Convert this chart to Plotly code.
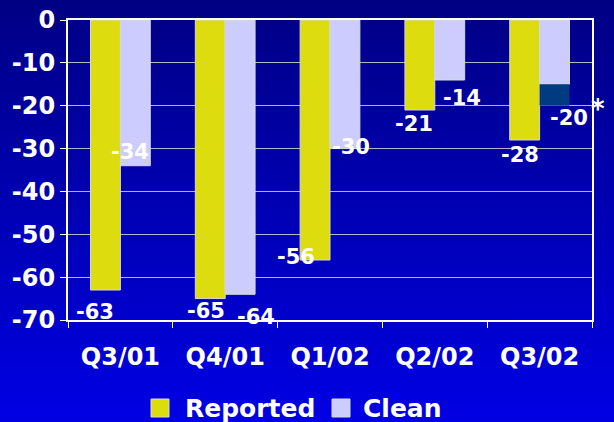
import base64
import plotly.graph_objects as go

# ---- data ----
quarters = ["Q3/01", "Q4/01", "Q1/02", "Q2/02", "Q3/02"]
reported = [-63, -65, -56, -21, -28]
clean_base = [-34, -64, -30, -14, -15]
clean_oneoff = [0, 0, 0, 0, -5]
y_ticks = [0, -10, -20, -30, -40, -50, -60, -70]
series_names = ["Reported", "Clean"]

clean_total = [a + b for a, b in zip(clean_base, clean_oneoff)]

# ---- label nudges (px) ----
rep_dx = [-10, -4, -19, -6, -5]
rep_dy = [22, 12, -3, 14, 15]
cln_dx = [-5, 16, 6, 12, 14]
cln_dy = [-14, 23, -2, 18, 12]

YELLOW = "#dcdc0f"
LAVENDER = "#ccccff"
NAVY = "#003a80"
EDGE = "#d8d8d8"
FONT = "DejaVu Sans"

W, H = 614, 422
L, R, T, B = 68, 22, 20, 102
pw, ph = W - L - R, H - T - B


def px_x(p):
    return (p - L) / pw


def px_y(p):
    return (T + ph - p) / ph


fig = go.Figure()
fig.add_trace(go.Bar(name="Reported", x=quarters, y=reported, offsetgroup="r",
                     marker=dict(color=YELLOW, line=dict(color=EDGE, width=1))))
fig.add_trace(go.Bar(name="Clean", x=quarters, y=clean_base, offsetgroup="c",
                     marker=dict(color=LAVENDER, line=dict(color=EDGE, width=1))))
fig.add_trace(go.Bar(name="One-off", x=quarters, y=clean_oneoff, offsetgroup="c",
                     marker=dict(color=NAVY, line=dict(color=EDGE, width=0))))

annotations = []
for i, q in enumerate(quarters):
    annotations.append(dict(x=q, y=reported[i], xref="x", yref="y", text=str(reported[i]),
                            showarrow=False, xshift=-15 + rep_dx[i], yshift=-rep_dy[i],
                            font=dict(family=FONT, size=21, color="white", weight="bold")))
    annotations.append(dict(x=q, y=clean_total[i], xref="x", yref="y", text=str(clean_total[i]),
                            showarrow=False, xshift=15 + cln_dx[i], yshift=-cln_dy[i],
                            font=dict(family=FONT, size=21, color="white", weight="bold")))
annotations.append(dict(x=px_x(607), y=-20.8, xref="paper", yref="y", text="*", showarrow=False,
                        font=dict(family=FONT, size=26, color="white", weight="bold")))

# ---- legend (drawn manually for large square keys) ----
shapes = []
legend_keys = [(YELLOW, 151, 183), (LAVENDER, 332, 361)]
for name, (col, sq_x, tx_x) in zip(series_names, legend_keys):
    shapes.append(dict(type="rect", xref="paper", yref="paper",
                       x0=px_x(sq_x), x1=px_x(sq_x + 18), y0=px_y(399), y1=px_y(417),
                       fillcolor=col, line=dict(color=EDGE, width=1)))
    annotations.append(dict(x=px_x(tx_x), y=px_y(408), xref="paper", yref="paper",
                            xanchor="left", yanchor="middle", text=name, showarrow=False,
                            font=dict(family=FONT, size=25, color="white", weight="bold")))

svg = ('<svg xmlns="http://www.w3.org/2000/svg" width="614" height="422">'
       '<defs><linearGradient id="g" x1="0" y1="0" x2="0" y2="1">'
       '<stop offset="0" stop-color="#000084"/><stop offset="1" stop-color="#0000e4"/>'
       '</linearGradient></defs><rect width="614" height="422" fill="url(#g)"/></svg>')
src = "data:image/svg+xml;base64," + base64.b64encode(svg.encode()).decode()

fig.update_layout(
    width=W, height=H,
    margin=dict(l=L, r=R, t=T, b=B, autoexpand=False),
    barmode="relative",
    bargap=0.43, bargroupgap=0,
    paper_bgcolor="#0000b0",
    plot_bgcolor="rgba(0,0,0,0)",
    images=[dict(source=src, xref="paper", yref="paper", x=-L / pw, y=1 + T / ph,
                 sizex=W / pw, sizey=H / ph, sizing="stretch", layer="below",
                 xanchor="left", yanchor="top")],
    annotations=annotations,
    shapes=shapes,
    showlegend=False,
    font=dict(family=FONT, color="white"),
)
fig.update_xaxes(showline=True, linecolor="white", linewidth=2, mirror=True,
                 ticks="outside", tickson="boundaries", ticklen=6, tickcolor="white",
                 ticklabelstandoff=14,
                 tickfont=dict(family=FONT, size=24, color="white", weight="bold"),
                 showgrid=False, automargin=False)
fig.update_yaxes(range=[-70, 0], tickvals=y_ticks, ticktext=[str(v) for v in y_ticks],
                 showline=True, linecolor="white", linewidth=2, mirror=True,
                 ticks="outside", ticklen=6, tickcolor="white",
                 showgrid=True, gridcolor="#b4b4c8", gridwidth=1, zeroline=False,
                 automargin=False,
                 tickfont=dict(family=FONT, size=24, color="white", weight="bold"))

fig.write_html("out.html", config={"displayModeBar": False},
               post_script="document.body.style.margin='0';document.body.style.background='#0000b0';")
